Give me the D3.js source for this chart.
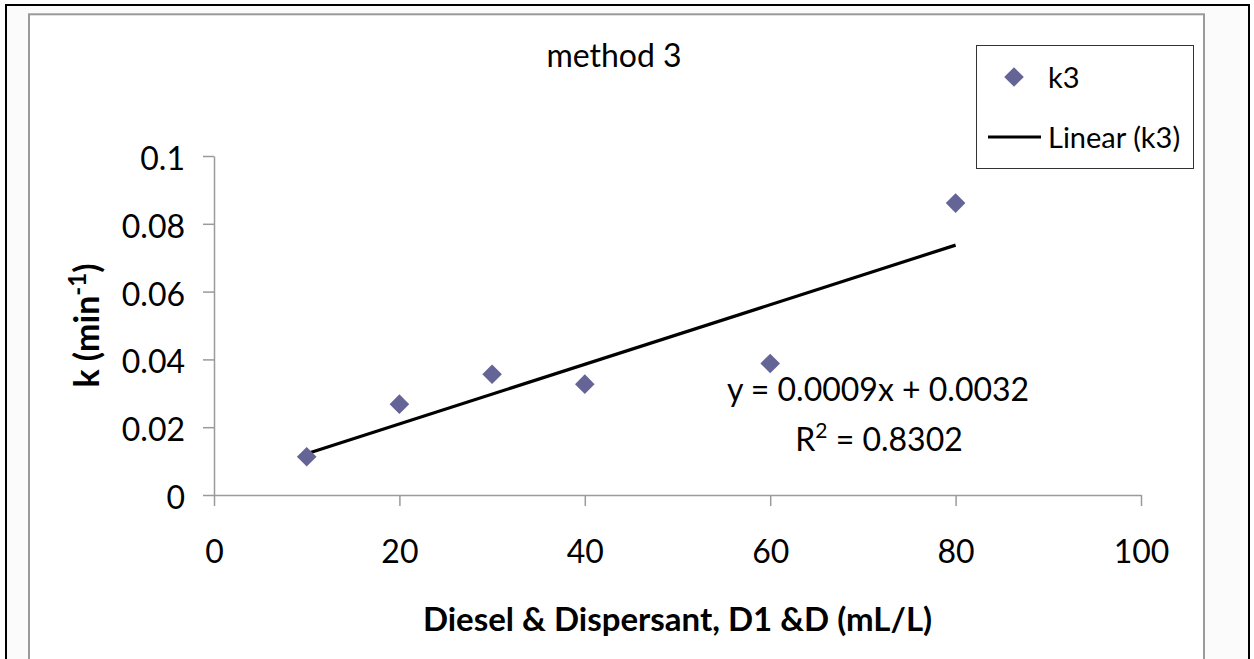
<!DOCTYPE html>
<html><head><meta charset="utf-8">
<script src="https://cdn.jsdelivr.net/npm/d3@7"></script>
<style>
body{margin:0;background:#fff}
svg{display:block}
text{font-family:Lato,"Open Sans",sans-serif;fill:#000}
</style>
</head><body>
<svg id="c" width="1254" height="659"></svg>
<script>
// ---- data ----
const xValues = [10, 20, 30, 40, 60, 80];
const kValues = [0.0113, 0.0268, 0.0356, 0.0327, 0.0388, 0.0861];
const xTicks = [0, 20, 40, 60, 80, 100];
const xTickLabels = ["0", "20", "40", "60", "80", "100"];
const yTicks = [0, 0.02, 0.04, 0.06, 0.08, 0.1];
const yTickLabels = ["0", "0.02", "0.04", "0.06", "0.08", "0.1"];
const chartTitle = "method 3";
const xTitle = "Diesel & Dispersant, D1 &D (mL/L)";
const yTitleMain = "k (min";
const yTitleSup = "-1";
const seriesName = "k3";
const trendName = "Linear (k3)";
const equationLabel = "y = 0.0009x + 0.0032";
const r2Label = "0.8302";

// ---- layout ----
const svg = d3.select("#c");
const markerColor = "#646496";
const axisColor = "#9a9a9a";

// frame
svg.append("rect").attr("x", 6).attr("y", 5).attr("width", 1243).attr("height", 700)
  .attr("fill", "#fbfbfb").attr("stroke", "#000").attr("stroke-width", 2);
svg.append("rect").attr("x", 29).attr("y", 14.3).attr("width", 1175).attr("height", 700)
  .attr("fill", "#fff").attr("stroke", axisColor).attr("stroke-width", 2);

const x = d3.scaleLinear().domain([0, 100]).range([214, 1141]);
const y = d3.scaleLinear().domain([0, 0.1]).range([495, 156]);

// axes
const xAxis = d3.axisBottom(x).tickValues(xTicks).tickSize(11).tickSizeOuter(0)
  .tickPadding(34).tickFormat((d, i) => xTickLabels[i]);
const gx = svg.append("g").attr("transform", `translate(0,${y(0)})`).call(xAxis);
const yAxis = d3.axisLeft(y).tickValues(yTicks).tickSize(11).tickSizeOuter(0)
  .tickPadding(18).tickFormat((d, i) => yTickLabels[i]);
const gy = svg.append("g").attr("transform", `translate(${x(0)},0)`).call(yAxis);
[gx, gy].forEach(g => {
  g.selectAll("path.domain").attr("stroke", axisColor).attr("stroke-width", 1.5);
  g.selectAll(".tick line").attr("stroke", axisColor).attr("stroke-width", 1.5);
  g.selectAll(".tick text").attr("font-family", "Lato").attr("font-size", 32).attr("fill", "#000");
});
gy.selectAll(".tick text").attr("dy", "0.42em");

// trend line (least squares on the data)
const n = xValues.length;
const mx = d3.mean(xValues), my = d3.mean(kValues);
let sxy = 0, sxx = 0;
for (let i = 0; i < n; i++) { sxy += (xValues[i] - mx) * (kValues[i] - my); sxx += (xValues[i] - mx) ** 2; }
const slope = sxy / sxx, intercept = my - slope * mx;
const xr = d3.extent(xValues);
svg.append("line")
  .attr("x1", x(xr[0])).attr("y1", y(slope * xr[0] + intercept))
  .attr("x2", x(xr[1])).attr("y2", y(slope * xr[1] + intercept))
  .attr("stroke", "#000").attr("stroke-width", 3.2);

// markers
const diamond = s => `M0,${-s}L${s},0L0,${s}L${-s},0Z`;
svg.append("g").selectAll("path").data(xValues).join("path")
  .attr("d", diamond(9.8))
  .attr("transform", (d, i) => `translate(${x(d)},${y(kValues[i])})`)
  .attr("fill", markerColor);

// chart title
svg.append("text").attr("x", 614).attr("y", 67).attr("text-anchor", "middle")
  .attr("font-size", 32).text(chartTitle);

// axis titles
svg.append("text").attr("x", x(50)).attr("y", 631).attr("text-anchor", "middle")
  .attr("font-size", 33).attr("font-weight", "bold").text(xTitle);
const yt = svg.append("text").attr("transform", `translate(99,${(y(0) + y(0.1)) / 2}) rotate(-90)`)
  .attr("text-anchor", "middle").attr("font-size", 34).attr("font-weight", "bold");
yt.append("tspan").text(yTitleMain);
yt.append("tspan").attr("dy", -13).attr("font-size", 24).text(yTitleSup);
yt.append("tspan").attr("dy", 13).text(")");

// equation
svg.append("text").attr("x", 878).attr("y", 401).attr("text-anchor", "middle")
  .attr("font-size", 32).text(equationLabel);
const r2 = svg.append("text").attr("x", 879).attr("y", 451).attr("text-anchor", "middle")
  .attr("font-size", 32);
r2.append("tspan").text("R");
r2.append("tspan").attr("dy", -13).attr("font-size", 21).text("2");
r2.append("tspan").attr("dy", 13).text(" = " + r2Label);

// legend
const lg = svg.append("g");
lg.append("rect").attr("x", 976.5).attr("y", 45.5).attr("width", 217).attr("height", 123)
  .attr("fill", "#fff").attr("stroke", "#333").attr("stroke-width", 1);
lg.append("path").attr("d", diamond(9.8)).attr("transform", "translate(1014,77)").attr("fill", markerColor);
lg.append("text").attr("x", 1048).attr("y", 88).attr("font-size", 29).text(seriesName);
lg.append("line").attr("x1", 988).attr("x2", 1041).attr("y1", 137).attr("y2", 137)
  .attr("stroke", "#000").attr("stroke-width", 3.2);
lg.append("text").attr("x", 1048).attr("y", 148).attr("font-size", 29).text(trendName);
</script>
</body></html>
